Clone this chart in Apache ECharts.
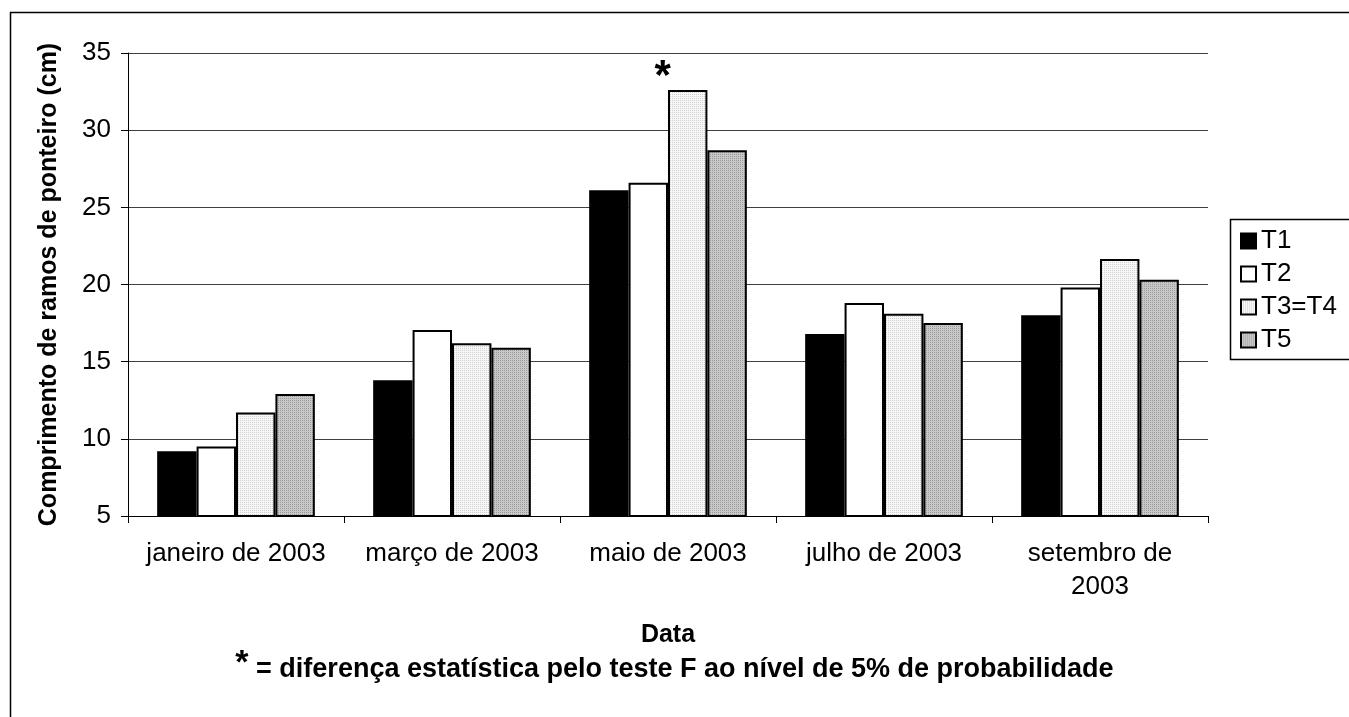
<!DOCTYPE html>
<html>
<head>
<meta charset="utf-8">
<script src="https://cdn.jsdelivr.net/npm/echarts@6/dist/echarts.min.js"></script>
<style>
html,body{margin:0;padding:0;background:#fff;}
#chart{width:1349px;height:717px;}
</style>
</head>
<body>
<div id="chart"></div>
<script>
const categories = ['janeiro de 2003', 'março de 2003', 'maio de 2003', 'julho de 2003', 'setembro de\n2003'];
const seriesNames = ['T1', 'T2', 'T3=T4', 'T5'];
const T1 = [9.2, 13.8, 26.1, 16.8, 18.0];
const T2 = [9.5, 17.05, 26.6, 18.8, 19.8];
const T3 = [11.7, 16.2, 32.6, 18.1, 21.65];
const T5 = [12.9, 15.9, 28.7, 17.5, 20.3];
const significance = ['', '', '*', '', ''];
const yTicks = [5, 10, 15, 20, 25, 30, 35];

function pattern(bg, dot) {
  const c = document.createElement('canvas');
  c.width = 4; c.height = 4;
  const ctx = c.getContext('2d');
  ctx.fillStyle = bg; ctx.fillRect(0, 0, 4, 4);
  ctx.fillStyle = dot;
  ctx.fillRect(0, 0, 1, 1); ctx.fillRect(2, 2, 1, 1);
  ctx.fillRect(2, 0, 1, 1); ctx.fillRect(0, 2, 1, 1);
  return c;
}
const fills = [
  '#000000',
  '#ffffff',
  { image: pattern('#f7f7f7', '#cfcfcf'), repeat: 'repeat' },
  { image: pattern('#c8c8c8', '#9a9a9a'), repeat: 'repeat' }
];
const dataSets = [T1, T2, T3, T5];

const chart = echarts.init(document.getElementById('chart'));
const font = 'Liberation Sans, Arial, sans-serif';

const series = dataSets.map((d, i) => ({
  name: seriesNames[i],
  type: 'bar',
  barGap: '0%',
  barCategoryGap: '27%',
  itemStyle: { color: fills[i], borderColor: '#000', borderWidth: 2 },
  data: d.map((v, j) => {
    const item = { value: v };
    if (i === 2 && significance[j]) {
      item.label = {
        show: true, position: 'top', formatter: significance[j],
        fontSize: 42, fontWeight: 'bold', color: '#000', fontFamily: font,
        offset: [-25, 13]
      };
    }
    return item;
  }),
  emphasis: { disabled: true },
  animation: false
}));

chart.setOption({
  animation: false,
  backgroundColor: '#fff',
  textStyle: { fontFamily: font },
  grid: { left: 128, right: 141, top: 53, bottom: 201, containLabel: false },
  legend: {
    orient: 'vertical',
    left: 1235, top: 223,
    itemWidth: 15, itemHeight: 15, itemGap: 7,
    icon: 'rect',
    data: seriesNames.map((n, i) => ({ name: n, itemStyle: { color: fills[i], borderColor: '#000', borderWidth: 2 } })),
    textStyle: { fontSize: 26, color: '#000', fontFamily: font, padding: [0, 0, 0, 0] },
    selectedMode: false
  },
  xAxis: {
    type: 'category',
    data: categories,
    name: 'Data',
    nameLocation: 'middle',
    nameGap: 107,
    nameTextStyle: { fontSize: 25, fontWeight: 'bold', color: '#000', fontFamily: font },
    axisLine: { lineStyle: { color: '#000', width: 1 } },
    axisTick: { show: true, alignWithLabel: false, length: 7, lineStyle: { color: '#000' } },
    axisLabel: { fontSize: 26, color: '#000', margin: 21, lineHeight: 33, fontFamily: font, interval: 0 }
  },
  yAxis: {
    type: 'value',
    min: yTicks[0], max: yTicks[yTicks.length - 1], interval: 5,
    name: 'Comprimento de ramos de ponteiro (cm)',
    nameLocation: 'middle',
    nameGap: 66,
    nameTextStyle: { fontSize: 25, fontWeight: 'bold', color: '#000', fontFamily: font },
    axisLine: { show: true, lineStyle: { color: '#000', width: 1 } },
    axisTick: { show: true, length: 7, lineStyle: { color: '#000' } },
    axisLabel: { fontSize: 26, color: '#000', margin: 17, fontFamily: font },
    splitLine: { show: true, lineStyle: { color: '#404040', width: 1 } }
  },
  graphic: [
    { type: 'rect', left: 8, top: 10, shape: { width: 1400, height: 800 }, style: { fill: 'none', stroke: '#000', lineWidth: 1.5 }, silent: true, z: -1 },
    { type: 'rect', left: 1228, top: 217, shape: { width: 140, height: 140 }, style: { fill: 'none', stroke: '#000', lineWidth: 1.5 }, silent: true },
    {
      type: 'text', left: 'center', top: 647,
      style: {
        text: '{a|*} = diferença estatística pelo teste F ao nível de 5% de probabilidade',
        fill: '#000',
        font: 'bold 27px ' + font,
        rich: {
          a: { fontSize: 34, fontWeight: 'bold', fontFamily: font, padding: [0, 0, 12, 0] }
        }
      },
      x: -9
    }
  ],
  series: series
});
</script>
</body>
</html>
